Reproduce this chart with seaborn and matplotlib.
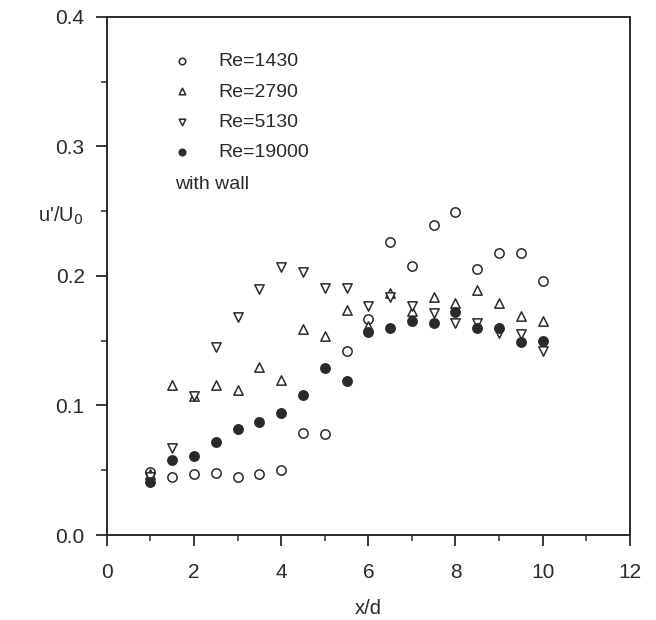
import pandas as pd
import numpy as np
import seaborn as sns
import matplotlib.pyplot as plt
from matplotlib.ticker import MultipleLocator

x_d = [1, 1.5, 2, 2.5, 3, 3.5, 4, 4.5, 5, 5.5, 6, 6.5, 7, 7.5, 8, 8.5, 9, 9.5, 10]
re_1430 = [0.049, 0.045, 0.047, 0.048, 0.045, 0.047, 0.050, 0.079, 0.078, 0.142,
           0.167, 0.226, 0.208, 0.239, 0.249, 0.205, 0.218, 0.218, 0.196]
re_2790 = [0.047, 0.116, 0.107, 0.116, 0.112, 0.130, 0.120, 0.159, 0.154, 0.174,
           0.161, 0.187, 0.173, 0.184, 0.179, 0.189, 0.179, 0.169, 0.165]
re_5130 = [0.045, 0.067, 0.107, 0.145, 0.168, 0.190, 0.207, 0.203, 0.191, 0.191,
           0.177, 0.184, 0.177, 0.171, 0.164, 0.164, 0.156, 0.155, 0.142]
re_19000 = [0.041, 0.058, 0.061, 0.072, 0.082, 0.087, 0.094, 0.108, 0.129, 0.119,
            0.157, 0.160, 0.165, 0.164, 0.172, 0.160, 0.160, 0.149, 0.150]
labels = ['Re=1430', 'Re=2790', 'Re=5130', 'Re=19000']

df = pd.DataFrame({'x/d': x_d * 4,
                   'u': re_1430 + re_2790 + re_5130 + re_19000,
                   'case': np.repeat(labels, len(x_d))})

sns.set_theme(style='white')
plt.rcParams['font.family'] = ['Liberation Sans', 'DejaVu Sans']
ink = '#2a2a2a'

fig = plt.figure(figsize=(6.56, 6.2), dpi=100)
ax = fig.add_axes([0.163, 0.137, 0.797, 0.836])

styles = {'Re=1430': ('o', 'white'), 'Re=2790': ('^', 'white'),
          'Re=5130': ('v', 'white'), 'Re=19000': ('o', ink)}
for lab in labels:
    m, fc = styles[lab]
    sns.scatterplot(data=df[df['case'] == lab], x='x/d', y='u', marker=m,
                    s=45, facecolor=fc, edgecolor=ink, linewidth=1.1,
                    label=lab, ax=ax, zorder=3)

ax.set_xlim(0, 12)
ax.set_ylim(0, 0.4)
ax.xaxis.set_major_locator(MultipleLocator(2))
ax.xaxis.set_minor_locator(MultipleLocator(1))
ax.yaxis.set_major_locator(MultipleLocator(0.1))
ax.yaxis.set_minor_locator(MultipleLocator(0.05))
ax.yaxis.set_major_formatter(plt.FormatStrFormatter('%.1f'))
ax.tick_params(which='major', direction='out', length=8, width=1.3, color=ink,
               labelsize=15, labelcolor=ink, left=True, bottom=True)
ax.tick_params(axis='x', which='major', pad=12)
ax.tick_params(axis='y', which='major', pad=8)
ax.tick_params(which='minor', direction='out', length=4.5, width=1.1, color=ink,
               left=True, bottom=True)
for sp in ax.spines.values():
    sp.set_color(ink)
    sp.set_linewidth(1.4)

ax.set_xlabel('x/d', fontsize=14.5, color=ink, labelpad=12)
ax.set_ylabel('')
fig.text(0.058, 0.642, "u'/U$_0$", fontsize=14.5, color=ink)

ax.legend(loc='upper left', bbox_to_anchor=(0.11, 0.946), borderaxespad=0,
          frameon=False, fontsize=14, markerscale=0.7, handlelength=1.0,
          handletextpad=1.35, labelspacing=0.66, labelcolor=ink)
ax.text(0.13, 0.676, 'with wall', transform=ax.transAxes, fontsize=14,
        color=ink, va='center')

fig.savefig('out.png', dpi=100)
